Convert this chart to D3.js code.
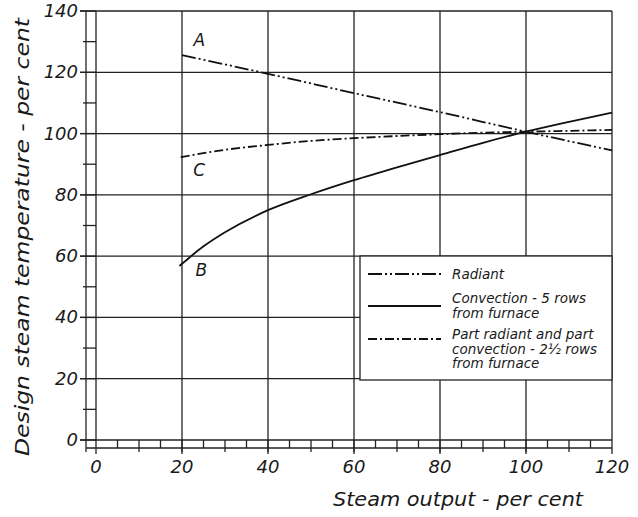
<!DOCTYPE html>
<html>
<head>
<meta charset="utf-8">
<script src="https://cdn.jsdelivr.net/npm/d3@7"></script>
<style>
  html, body { margin: 0; padding: 0; background: #fff; }
  svg { display: block; }
  text { font-family: "DejaVu Sans", sans-serif; font-style: italic; fill: #1a1a1a; }
</style>
</head>
<body>
<svg id="chart" width="638" height="517"></svg>
<script>
// Steam output (per cent) against design steam temperature (per cent)
const xTicks = [0, 20, 40, 60, 80, 100, 120];
const yTicks = [0, 20, 40, 60, 80, 100, 120, 140];

// Curve A - radiant superheater
const radiantX = [20, 40, 60, 80, 100, 120];
const radiantY = [125.6, 119.5, 113.2, 107.0, 100.6, 94.5];

// Curve B - convection, 5 rows from furnace
const convectionX = [19.4, 20, 25, 30, 40, 50, 60, 70, 80, 90, 100, 110, 120];
const convectionY = [56.8, 57.5, 63.2, 67.8, 75.0, 80.2, 84.8, 89.0, 93.0, 97.0, 100.6, 103.8, 106.8];

// Curve C - part radiant and part convection, 2½ rows from furnace
const partX = [19.7, 30, 40, 50, 60, 70, 80, 90, 100, 110, 120];
const partY = [92.3, 94.7, 96.3, 97.6, 98.5, 99.2, 99.8, 100.3, 100.6, 100.9, 101.2];

const curveLabels = ["A", "B", "C"];
const curveLabelAt = [[24, 128.5], [24.5, 53.5], [24, 86]];

const legendItems = [
  { lines: ["Radiant"], dash: "14,3,2,3,2,3" },
  { lines: ["Convection - 5 rows", "from furnace"], dash: null },
  { lines: ["Part radiant and part", "convection - 2\u00bd rows", "from furnace"], dash: "9,3,2,3" }
];

const svg = d3.select("#chart");
const ink = "#222";

const x = d3.scaleLinear().domain([0, 120]).range([96, 612]);
const y = d3.scaleLinear().domain([0, 140]).range([440, 11]);

// Grid: vertical lines every 20, horizontal lines every 20
const grid = svg.append("g").attr("stroke", ink).attr("stroke-width", 1.3);
grid.selectAll(".gx").data(xTicks.slice(1)).join("line")
  .attr("x1", d => x(d)).attr("x2", d => x(d))
  .attr("y1", y(140)).attr("y2", 454);
grid.selectAll(".gy").data(yTicks.slice(1)).join("line")
  .attr("x1", 80).attr("x2", x(120))
  .attr("y1", d => y(d)).attr("y2", d => y(d));

// Left ruler axis (double line with ticks every 10)
const leftOuter = 86;
grid.append("line").attr("x1", leftOuter).attr("x2", leftOuter).attr("y1", y(140)).attr("y2", 452);
grid.append("line").attr("x1", x(0)).attr("x2", x(0)).attr("y1", y(140)).attr("y2", 454);
grid.selectAll(".ly").data(d3.range(0, 141, 10)).join("line")
  .attr("x1", d => d % 20 === 0 ? 80 : 83).attr("x2", x(0))
  .attr("y1", d => y(d)).attr("y2", d => y(d));

// Bottom ruler axis (double line with ticks every 5)
const rulerBottom = 448;
grid.append("line").attr("x1", 80).attr("x2", x(120)).attr("y1", y(0)).attr("y2", y(0));
grid.append("line").attr("x1", leftOuter).attr("x2", x(120)).attr("y1", rulerBottom).attr("y2", rulerBottom);
grid.selectAll(".bx").data(d3.range(5, 120, 5)).join("line")
  .attr("x1", d => x(d)).attr("x2", d => x(d))
  .attr("y1", y(0)).attr("y2", d => d % 10 === 0 ? 452 : rulerBottom);

// Tick labels
svg.append("g").selectAll("text").data(xTicks).join("text")
  .attr("x", d => x(d)).attr("y", 473)
  .attr("text-anchor", "middle").attr("font-size", 18)
  .text(d => d);
svg.append("g").selectAll("text").data(yTicks).join("text")
  .attr("x", 78).attr("y", d => y(d) + 6)
  .attr("text-anchor", "end").attr("font-size", 18)
  .text(d => d);

// Axis titles
svg.append("text").attr("x", 458).attr("y", 506)
  .attr("text-anchor", "middle").attr("font-size", 20)
  .attr("textLength", 250).attr("lengthAdjust", "spacingAndGlyphs")
  .text("Steam output - per cent");
svg.append("text").attr("transform", "translate(29,237) rotate(-90)")
  .attr("text-anchor", "middle").attr("font-size", 20)
  .attr("textLength", 438).attr("lengthAdjust", "spacingAndGlyphs")
  .text("Design steam temperature - per cent");

// Curves
const line = d3.line().x(d => x(d[0])).y(d => y(d[1])).curve(d3.curveMonotoneX);
const curves = [
  { xs: radiantX, ys: radiantY, dash: legendItems[0].dash },
  { xs: convectionX, ys: convectionY, dash: legendItems[1].dash },
  { xs: partX, ys: partY, dash: legendItems[2].dash }
];
svg.append("g").selectAll("path").data(curves).join("path")
  .attr("d", c => line(d3.zip(c.xs, c.ys)))
  .attr("fill", "none").attr("stroke", "#111").attr("stroke-width", 1.8)
  .attr("stroke-dasharray", c => c.dash);

// Curve letters
svg.append("g").selectAll("text").data(curveLabels).join("text")
  .attr("x", (d, i) => x(curveLabelAt[i][0])).attr("y", (d, i) => y(curveLabelAt[i][1]))
  .attr("text-anchor", "middle").attr("font-size", 17)
  .text(d => d);

// Legend box
const lg = svg.append("g");
lg.append("rect").attr("x", 360).attr("y", 256).attr("width", x(120) - 360).attr("height", 124)
  .attr("fill", "#fff").attr("stroke", ink).attr("stroke-width", 1.3);
const legendRows = [274, 306, 339];
legendItems.forEach((item, i) => {
  lg.append("line").attr("x1", 368).attr("x2", 441)
    .attr("y1", legendRows[i]).attr("y2", legendRows[i])
    .attr("stroke", "#111").attr("stroke-width", 1.8)
    .attr("stroke-dasharray", item.dash);
  const top = i === 0 ? 279 : (i === 1 ? 303 : 339);
  item.lines.forEach((t, j) => {
    lg.append("text").attr("x", 452).attr("y", top + j * 14.5)
      .attr("font-size", 13.5).text(t);
  });
});
</script>
</body>
</html>
